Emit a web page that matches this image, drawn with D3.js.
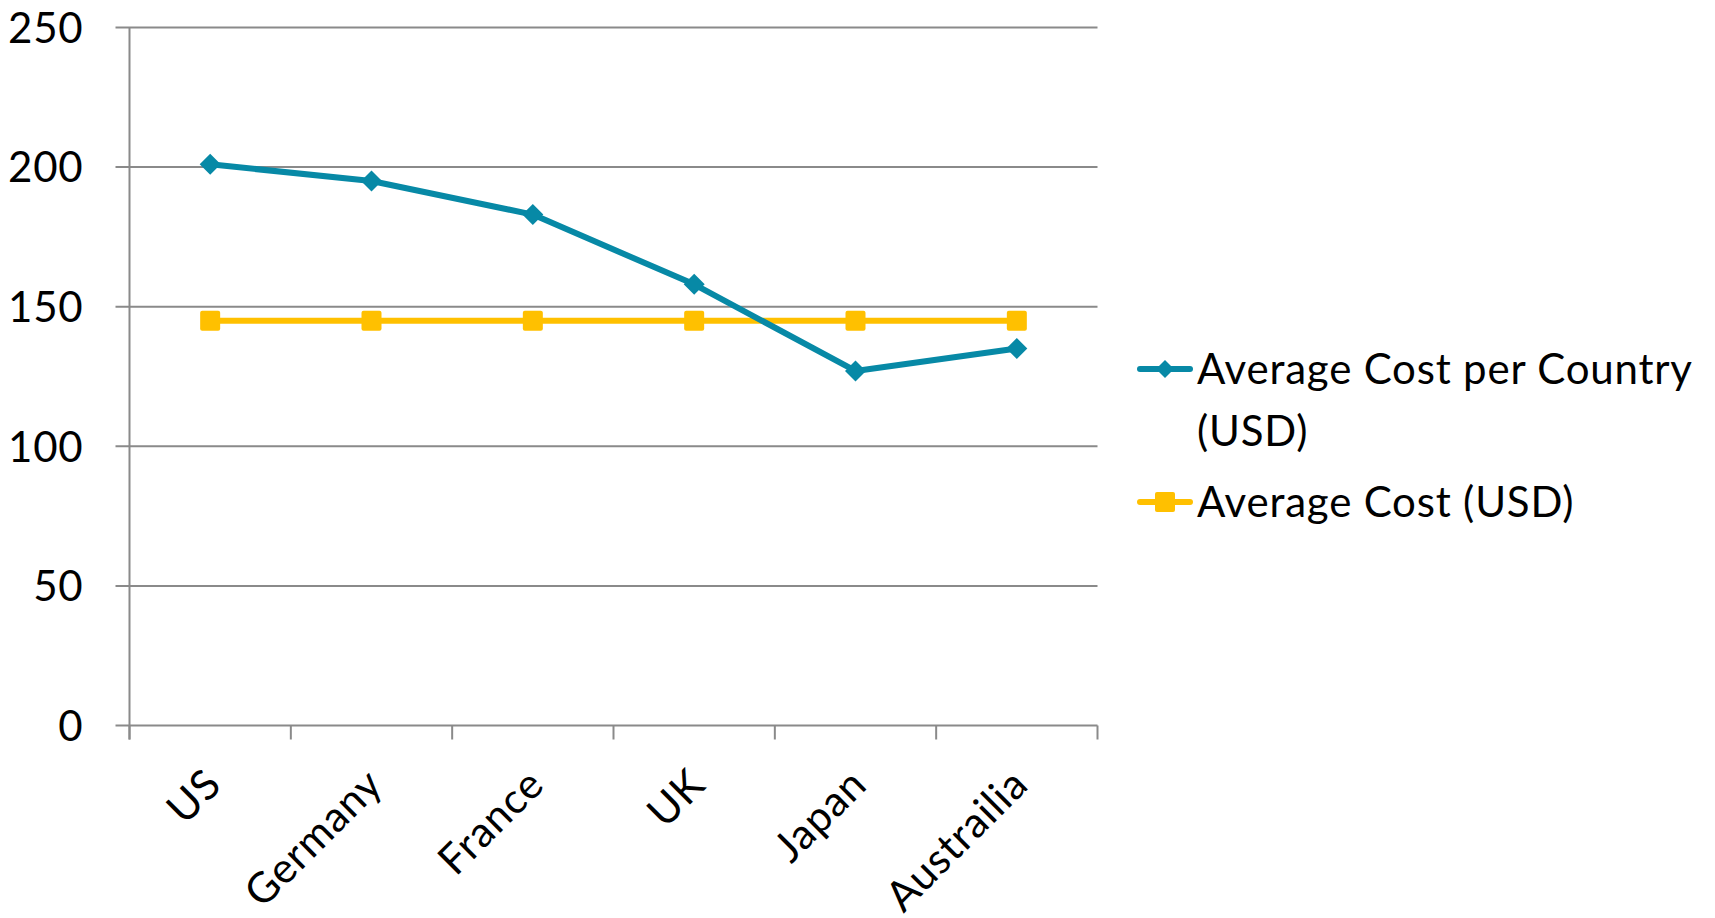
<!DOCTYPE html>
<html>
<head>
<meta charset="utf-8">
<script src="https://cdn.jsdelivr.net/npm/d3@7"></script>
<style>
  html, body { margin: 0; padding: 0; background: #ffffff; }
  svg { display: block; }
  text { font-family: Lato, "Open Sans", sans-serif; fill: #000; letter-spacing: 0.8px; }
</style>
</head>
<body>
<svg id="chart" width="1715" height="918"></svg>
<script>
// Countries on the category axis
const categories = ["US", "Germany", "France", "UK", "Japan", "Austrailia"];
// Average cost per country, USD
const costPerCountry = [201, 195, 183, 158, 127, 135];
// Overall average cost, USD
const averageCost = [145, 145, 145, 145, 145, 145];
// Value axis ticks
const yTicks = [0, 50, 100, 150, 200, 250];
// Legend entries
const legendLines1 = ["Average Cost per Country", "(USD)"];
const legendLines2 = ["Average Cost (USD)"];

const TEAL = "#0789a6";
const GOLD = "#ffc000";
const GRID = "#8a8a8a";
const FONT = 42;

const svg = d3.select("#chart");
svg.append("rect").attr("width", 1715).attr("height", 918).attr("fill", "#fff");

const plotLeft = 129.5, plotRight = 1097.5, plotTop = 27.5, plotBottom = 725.5, tick = 14;

const x = d3.scaleBand().domain(categories).range([plotLeft, plotRight]).padding(0);
const y = d3.scaleLinear().domain([0, 250]).range([plotBottom, plotTop]);
const cx = c => x(c) + x.bandwidth() / 2;

// Horizontal gridlines (extend left to act as tick marks)
svg.append("g").selectAll("line").data(yTicks).join("line")
  .attr("x1", plotLeft - tick).attr("x2", plotRight)
  .attr("y1", d => y(d)).attr("y2", d => y(d))
  .attr("stroke", GRID).attr("stroke-width", 2);

// Value axis labels
const yAxis = d3.axisLeft(y).tickValues(yTicks).tickSize(0).tickPadding(46);
const gy = svg.append("g").attr("transform", `translate(${plotLeft},0)`).call(yAxis);
gy.select(".domain").remove();
gy.selectAll("text").attr("font-size", FONT).attr("font-family", "Lato, 'Open Sans', sans-serif")
  .attr("fill", "#000").attr("dy", "0.35em");

// Vertical axis line (continues down to the first category tick)
svg.append("line").attr("x1", plotLeft).attr("x2", plotLeft).attr("y1", plotTop).attr("y2", plotBottom + tick)
  .attr("stroke", GRID).attr("stroke-width", 2);

// Category boundary ticks
const boundaries = d3.range(categories.length + 1).map(i => plotLeft + i * x.step());
svg.append("g").selectAll("line").data(boundaries).join("line")
  .attr("x1", d => d).attr("x2", d => d)
  .attr("y1", plotBottom).attr("y2", plotBottom + tick)
  .attr("stroke", GRID).attr("stroke-width", 2);

// Rotated category labels
svg.append("g").selectAll("text").data(categories).join("text")
  .attr("transform", d => `translate(${cx(d) + 3},${plotBottom + 51}) rotate(-45)`)
  .attr("text-anchor", "end").attr("dy", "0.35em")
  .attr("font-size", FONT).text(d => d);

const line = d3.line().x((d, i) => cx(categories[i])).y(d => y(d));

// Average cost series (gold, square markers)
svg.append("path").datum(averageCost).attr("d", line)
  .attr("fill", "none").attr("stroke", GOLD).attr("stroke-width", 6).attr("stroke-linejoin", "round");
svg.append("g").selectAll("rect").data(averageCost).join("rect")
  .attr("x", (d, i) => cx(categories[i]) - 10).attr("y", d => y(d) - 10)
  .attr("width", 20).attr("height", 20).attr("rx", 2).attr("fill", GOLD);

// Per-country series (teal, diamond markers)
svg.append("path").datum(costPerCountry).attr("d", line)
  .attr("fill", "none").attr("stroke", TEAL).attr("stroke-width", 6).attr("stroke-linejoin", "round");
const diamond = (px, py, r) => `M${px},${py - r}L${px + r},${py}L${px},${py + r}L${px - r},${py}Z`;
svg.append("g").selectAll("path").data(costPerCountry).join("path")
  .attr("d", (d, i) => diamond(cx(categories[i]), y(d), 10.5)).attr("fill", TEAL);

// Legend
const lg = svg.append("g");
const lx0 = 1137, lx1 = 1193, tx = 1197;
const entries = [
  { color: TEAL, my: 369, lines: legendLines1, marker: "diamond" },
  { color: GOLD, my: 502, lines: legendLines2, marker: "square" }
];
entries.forEach(e => {
  lg.append("line").attr("x1", lx0 + 3).attr("x2", lx1 - 3).attr("y1", e.my).attr("y2", e.my)
    .attr("stroke", e.color).attr("stroke-width", 6).attr("stroke-linecap", "round");
  const mx = (lx0 + lx1) / 2;
  if (e.marker === "diamond") {
    lg.append("path").attr("d", diamond(mx, e.my, 9)).attr("fill", e.color);
  } else {
    lg.append("rect").attr("x", mx - 10).attr("y", e.my - 10).attr("width", 20).attr("height", 20)
      .attr("rx", 2).attr("fill", e.color);
  }
  e.lines.forEach((t, k) => {
    lg.append("text").attr("x", tx).attr("y", e.my + 15 + k * 62)
      .attr("font-size", FONT).text(t);
  });
});
</script>
</body>
</html>
